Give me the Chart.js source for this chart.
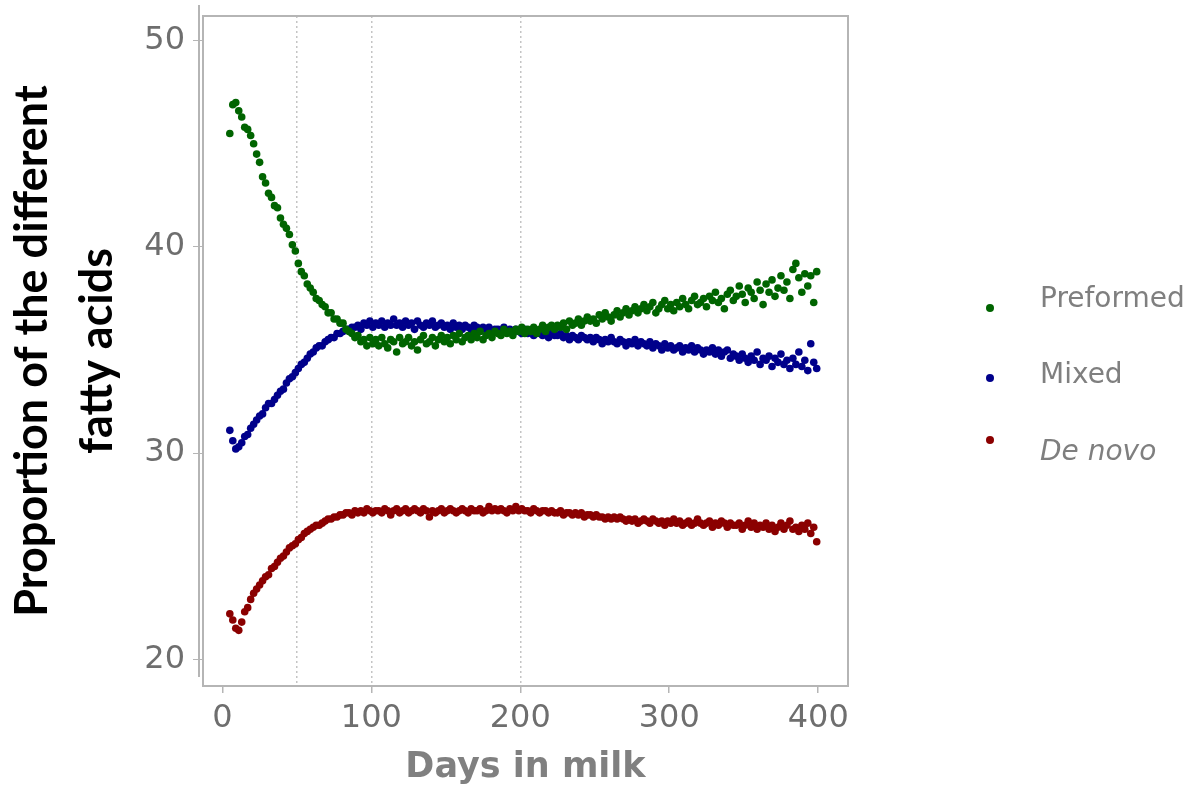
<!DOCTYPE html>
<html>
<head>
<meta charset="utf-8">
<script src="https://cdn.jsdelivr.net/npm/chart.js@4.4.0/dist/chart.umd.min.js"></script>
<style>
  html, body { margin: 0; padding: 0; background: #fff; }
</style>
</head>
<body>
<canvas id="chart" width="1200" height="789"></canvas>
<script>
// days in milk (one reading every second day)
const days = [
  5, 7, 9, 11, 13, 15, 17, 19, 21, 23,
  25, 27, 29, 31, 33, 35, 37, 39, 41, 43,
  45, 47, 49, 51, 53, 55, 57, 59, 61, 63,
  65, 67, 69, 71, 73, 75, 77, 79, 81, 83,
  85, 87, 89, 91, 93, 95, 97, 99, 101, 103,
  105, 107, 109, 111, 113, 115, 117, 119, 121, 123,
  125, 127, 129, 131, 133, 135, 137, 139, 141, 143,
  145, 147, 149, 151, 153, 155, 157, 159, 161, 163,
  165, 167, 169, 171, 173, 175, 177, 179, 181, 183,
  185, 187, 189, 191, 193, 195, 197, 199, 201, 203,
  205, 207, 209, 211, 213, 215, 217, 219, 221, 223,
  225, 227, 229, 231, 233, 235, 237, 239, 241, 243,
  245, 247, 249, 251, 253, 255, 257, 259, 261, 263,
  265, 267, 269, 271, 273, 275, 277, 279, 281, 283,
  285, 287, 289, 291, 293, 295, 297, 299, 301, 303,
  305, 307, 309, 311, 313, 315, 317, 319, 321, 323,
  325, 327, 329, 331, 333, 335, 337, 339, 341, 343,
  345, 347, 349, 351, 353, 355, 357, 359, 361, 363,
  365, 367, 369, 371, 373, 375, 377, 379, 381, 383,
  385, 387, 389, 391, 393, 395, 397, 399
];

const preformed = [
  45.5, 46.9, 47.0, 46.6, 46.3, 45.8, 45.7, 45.4, 45.0, 44.5,
  44.1, 43.4, 43.1, 42.6, 42.4, 42.0, 41.9, 41.4, 41.1, 40.9,
  40.6, 40.1, 39.8, 39.2, 38.8, 38.6, 38.2, 38.0, 37.8, 37.5,
  37.4, 37.2, 37.1, 36.8, 36.8, 36.5, 36.5, 36.3, 36.3, 36.0,
  35.9, 35.8, 35.6, 35.7, 35.4, 35.5, 35.2, 35.6, 35.3, 35.5,
  35.2, 35.6, 35.3, 35.1, 35.5, 35.4, 34.9, 35.6, 35.3, 35.4,
  35.6, 35.2, 35.4, 35.0, 35.5, 35.7, 35.3, 35.4, 35.6, 35.2,
  35.5, 35.7, 35.4, 35.6, 35.3, 35.7, 35.5, 35.8, 35.4, 35.6,
  35.7, 35.5, 35.8, 35.6, 35.9, 35.5, 35.7, 35.8, 35.6, 35.9,
  35.8, 35.7, 36.0, 35.8, 35.9, 35.7, 36.0, 35.9, 36.1, 35.8,
  36.0, 35.9, 36.1, 35.8, 36.0, 36.2, 35.9, 36.1, 36.2, 36.0,
  36.2, 36.1, 36.3, 36.0, 36.4, 36.2, 36.3, 36.5, 36.2, 36.4,
  36.6, 36.4, 36.5, 36.3, 36.7, 36.5, 36.8, 36.6, 36.4, 36.7,
  36.9, 36.6, 36.8, 37.0, 36.7, 36.9, 37.1, 36.8, 37.0, 37.2,
  36.9, 37.1, 37.3, 36.8, 37.0, 37.2, 37.4, 37.0, 37.2, 36.9,
  37.3, 37.1, 37.5, 37.2, 37.0, 37.4, 37.6, 37.2, 37.3, 37.5,
  37.1, 37.6, 37.4, 37.8, 37.3, 37.5, 37.0, 37.7, 37.9, 37.4,
  37.6, 38.1, 37.7, 37.3, 38.0, 37.8, 37.5, 38.3, 37.9, 37.2,
  38.2, 37.8, 38.4, 37.6, 38.0, 38.6, 37.9, 38.3, 37.5, 38.9,
  39.2, 38.5, 37.8, 38.7, 38.1, 38.6, 37.3, 38.8
];

const mixed = [
  31.1, 30.6, 30.2, 30.3, 30.5, 30.8, 30.9, 31.2, 31.4, 31.6,
  31.8, 31.9, 32.2, 32.4, 32.4, 32.6, 32.8, 33.0, 33.1, 33.4,
  33.6, 33.7, 33.9, 34.1, 34.3, 34.4, 34.6, 34.8, 34.9, 35.1,
  35.2, 35.2, 35.4, 35.5, 35.6, 35.6, 35.8, 35.8, 35.9, 36.0,
  36.0, 36.1, 36.1, 36.2, 36.0, 36.3, 36.2, 36.4, 36.1, 36.3,
  36.2, 36.4, 36.1, 36.3, 36.2, 36.5, 36.2, 36.3, 36.1, 36.4,
  36.2, 36.3, 36.0, 36.4, 36.2, 36.1, 36.3, 36.2, 36.4, 36.1,
  36.2, 36.3, 36.1, 36.2, 36.0, 36.3, 36.1, 36.2, 36.0, 36.2,
  36.1, 36.0, 36.2, 36.1, 35.9, 36.1, 36.0, 36.1, 35.9, 36.0,
  36.0, 35.9, 36.1, 35.9, 36.0, 35.8, 36.0, 35.9, 35.8, 36.0,
  35.8, 35.9, 35.7, 35.9, 35.8, 35.7, 35.9, 35.6, 35.8, 35.7,
  35.7, 35.8, 35.6, 35.7, 35.5, 35.7, 35.6, 35.5, 35.7, 35.6,
  35.5, 35.6, 35.4, 35.6, 35.5, 35.3, 35.5, 35.4, 35.6, 35.4,
  35.3, 35.5, 35.4, 35.2, 35.4, 35.3, 35.5, 35.2, 35.4, 35.3,
  35.2, 35.4, 35.1, 35.3, 35.2, 35.0, 35.3, 35.1, 35.2, 35.0,
  35.1, 35.2, 34.9, 35.1, 35.0, 35.2, 34.9, 35.1, 35.0, 34.8,
  35.0, 34.9, 35.1, 34.8, 35.0, 34.7, 34.9, 35.0, 34.6, 34.8,
  34.7, 34.5, 34.8, 34.6, 34.4, 34.7, 34.5, 34.9, 34.3, 34.6,
  34.5, 34.7, 34.2, 34.6, 34.4, 34.8, 34.3, 34.5, 34.1, 34.6,
  34.3, 34.9, 34.2, 34.5, 34.0, 35.3, 34.4, 34.1
];

const deNovo = [
  22.2, 21.9, 21.5, 21.4, 21.8, 22.3, 22.5, 22.9, 23.2, 23.4,
  23.6, 23.8, 24.0, 24.1, 24.4, 24.5, 24.7, 24.9, 25.0, 25.2,
  25.4, 25.5, 25.6, 25.8, 25.9, 26.1, 26.2, 26.3, 26.4, 26.5,
  26.5, 26.6, 26.7, 26.8, 26.8, 26.9, 26.9, 27.0, 27.0, 27.1,
  27.1, 27.0, 27.2, 27.1, 27.2, 27.1, 27.3, 27.2, 27.1, 27.2,
  27.2, 27.1, 27.3, 27.2, 27.0, 27.2, 27.3, 27.1, 27.2, 27.3,
  27.1, 27.2, 27.3, 27.2, 27.1, 27.3, 27.2, 26.9, 27.2, 27.1,
  27.2, 27.3, 27.1, 27.2, 27.3, 27.2, 27.1, 27.2, 27.3, 27.2,
  27.1, 27.3, 27.2, 27.2, 27.3, 27.1, 27.2, 27.4, 27.2, 27.3,
  27.2, 27.3, 27.2, 27.1, 27.3, 27.2, 27.4, 27.2, 27.3, 27.2,
  27.2, 27.1, 27.3, 27.2, 27.1, 27.2, 27.2, 27.1, 27.2, 27.1,
  27.1, 27.2, 27.0, 27.1, 27.1, 27.0, 27.1, 27.0, 27.1, 26.9,
  27.0, 27.0, 26.9, 27.0, 26.9, 26.9, 26.8, 26.9, 26.8, 26.9,
  26.8, 26.9, 26.8, 26.7, 26.8, 26.7, 26.8, 26.6, 26.7, 26.8,
  26.7, 26.6, 26.8, 26.7, 26.6, 26.7, 26.5, 26.7, 26.6, 26.8,
  26.6, 26.7, 26.5, 26.6, 26.7, 26.5, 26.6, 26.8, 26.6, 26.5,
  26.6, 26.7, 26.4, 26.6, 26.5, 26.7, 26.6, 26.4, 26.6, 26.5,
  26.5, 26.6, 26.3, 26.5, 26.7, 26.4, 26.6, 26.3, 26.5, 26.4,
  26.6, 26.3, 26.5, 26.2, 26.4, 26.6, 26.3, 26.5, 26.7, 26.3,
  26.4, 26.2, 26.5, 26.3, 26.6, 26.1, 26.4, 25.7
];

const seriesNames = ['Preformed', 'Mixed', 'De novo'];
const seriesColors = ['#006400', '#00008b', '#8b0000'];
const xTickLabels = [0, 100, 200, 300, 400];
const xGridDays = [50, 100, 200];
const yTickLabels = [20, 30, 40, 50];

const tickFont = { family: 'DejaVu Sans', size: 32 };
const tickGray = '#6e6e6e';

// box round the plot + legend on the right
const framePlugin = {
  id: 'frame',
  afterDraw(chart) {
    const { ctx, chartArea: a } = chart;
    ctx.save();
    ctx.strokeStyle = '#b5b5b5';
    ctx.lineWidth = 2;
    ctx.strokeRect(a.left, a.top, a.right - a.left, a.bottom - a.top);
    ctx.beginPath();
    ctx.moveTo(a.left - 4, a.top - 11);
    ctx.lineTo(a.left - 4, a.bottom - 9);
    ctx.stroke();

    const dotY = [308, 378, 440];
    const textY = [300, 376, 453];
    chart.data.datasets.forEach((ds, i) => {
      ctx.fillStyle = ds.backgroundColor;
      ctx.beginPath();
      ctx.arc(990, dotY[i], 4, 0, Math.PI * 2);
      ctx.fill();
      ctx.fillStyle = '#7f7f7f';
      ctx.font = (i === 2 ? 'italic ' : '') + '28px "DejaVu Sans"';
      ctx.textBaseline = 'middle';
      ctx.textAlign = 'left';
      ctx.fillText(ds.label, 1040, textY[i]);
    });
    ctx.restore();
  }
};

const toPoints = vals => days.map((d, i) => ({ x: d, y: vals[i] }));

new Chart(document.getElementById('chart'), {
  type: 'scatter',
  data: {
    datasets: [
      { label: seriesNames[0], data: toPoints(preformed), backgroundColor: seriesColors[0], pointRadius: 3.8, borderWidth: 0 },
      { label: seriesNames[1], data: toPoints(mixed), backgroundColor: seriesColors[1], pointRadius: 3.8, borderWidth: 0 },
      { label: seriesNames[2], data: toPoints(deNovo), backgroundColor: seriesColors[2], pointRadius: 3.8, borderWidth: 0 }
    ]
  },
  options: {
    responsive: false,
    animation: false,
    layout: { padding: { top: 16, right: 352, left: 0, bottom: 0 } },
    plugins: {
      legend: { display: false },
      tooltip: { enabled: false }
    },
    scales: {
      x: {
        type: 'linear',
        min: -13,
        max: 420,
        afterBuildTicks: s => { s.ticks = [0, 50, 100, 200, 300, 400].map(v => ({ value: v })); },
        afterFit: s => { s.height = 103; s.paddingLeft = 0; s.paddingRight = 0; },
        border: { display: false, dash: [2, 3] },
        grid: {
          color: c => xGridDays.includes(c.tick.value) ? '#c4c4c4' : 'rgba(0,0,0,0)',
          lineWidth: 1.5,
          tickColor: c => xTickLabels.includes(c.tick.value) ? '#b5b5b5' : 'rgba(0,0,0,0)',
          tickLength: 7,
          tickBorderDash: []
        },
        ticks: {
          callback: v => xTickLabels.includes(v) ? String(v) : '',
          font: tickFont,
          color: tickGray,
          padding: 6,
          maxRotation: 0,
          autoSkip: false
        },
        title: {
          display: true,
          text: 'Days in milk',
          font: { family: 'DejaVu Sans', size: 35, weight: 'bold' },
          color: '#808080',
          padding: { top: 0, bottom: 0 }
        }
      },
      y: {
        min: 18.7,
        max: 51.2,
        afterBuildTicks: s => { s.ticks = yTickLabels.map(v => ({ value: v })); },
        afterFit: s => { s.width = 203; s.paddingTop = 0; s.paddingBottom = 0; },
        border: { display: false },
        grid: {
          color: 'rgba(0,0,0,0)',
          tickColor: '#b5b5b5',
          tickLength: 10
        },
        ticks: { font: tickFont, color: tickGray, padding: 8 },
        title: {
          display: true,
          text: ['Proportion of the different', 'fatty acids'],
          font: { family: 'Lato', size: 45, weight: 'bold', lineHeight: 1.45 },
          color: '#000',
          padding: { top: 0, bottom: 0 }
        }
      }
    }
  },
  plugins: [framePlugin]
});
</script>
</body>
</html>
